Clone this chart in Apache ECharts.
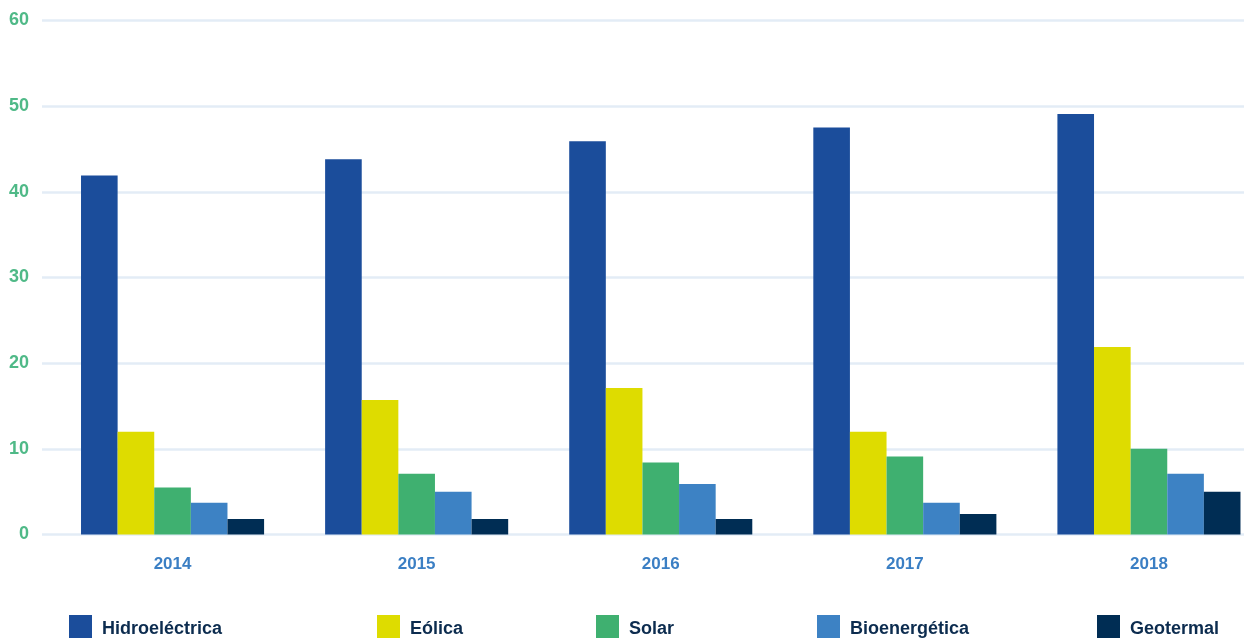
<!DOCTYPE html>
<html>
<head>
<meta charset="utf-8">
<style>
  html, body { margin: 0; padding: 0; background: #ffffff; overflow: hidden; width: 1244px; height: 642px; }
  /* the canvas runs a little past the right edge so the last group is cut off */
  #chart { width: 1271px; height: 642px; }
</style>
<script src="https://cdn.jsdelivr.net/npm/echarts@6/dist/echarts.min.js"></script>
</head>
<body>
<div id="chart"></div>
<script>
// Capacity by source and year
const years = ['2014', '2015', '2016', '2017', '2018'];
const hidro = [41.9, 43.8, 45.9, 47.5, 49.1];
const eolica = [12.0, 15.7, 17.1, 12.0, 21.9];
const solar = [5.5, 7.1, 8.4, 9.1, 10.0];
const bio = [3.7, 5.0, 5.9, 3.7, 7.1];
const geo = [1.8, 1.8, 1.8, 2.4, 5.0];
const seriesNames = ['Hidroeléctrica', 'Eólica', 'Solar', 'Bioenergética', 'Geotermal'];
const yTicks = [0, 10, 20, 30, 40, 50, 60];

const colors = ['#1b4d9b', '#dedc00', '#3fb070', '#3d82c4', '#002d54'];
const values = [hidro, eolica, solar, bio, geo];
const legendLeft = [69, 377, 596, 817, 1097];

const chart = echarts.init(document.getElementById('chart'), null, { renderer: 'canvas' });

const legends = seriesNames.map((name, i) => ({
  data: [name],
  left: legendLeft[i],
  top: 615,
  padding: 0,
  itemWidth: 23,
  itemHeight: 23,
  icon: 'rect',
  selectedMode: false,
  formatter: '{t|{name}}',
  textStyle: {
    rich: {
      t: {
        fontFamily: 'Liberation Sans, Arial, sans-serif',
        fontWeight: 'bold',
        fontSize: 18,
        color: '#0c2c4f',
        padding: [5, 0, 0, 5]
      }
    }
  }
}));

chart.setOption({
  backgroundColor: '#ffffff',
  animation: false,
  legend: legends,
  grid: [
    // grid lines and value labels
    { left: 42, right: 27, top: 20.5, bottom: 107.5 },
    // bars
    { left: 50.5, right: 0, top: 20.5, bottom: 107.5 }
  ],
  xAxis: [
    { type: 'value', gridIndex: 0, show: false, min: 0, max: 1 },
    {
      type: 'category',
      gridIndex: 1,
      data: years,
      axisLine: { show: false },
      axisTick: { show: false },
      axisLabel: {
        margin: 21,
        fontFamily: 'Liberation Sans, Arial, sans-serif',
        fontWeight: 'bold',
        fontSize: 17,
        color: '#3b7fc4'
      }
    }
  ],
  yAxis: [
    {
      type: 'value',
      gridIndex: 0,
      min: yTicks[0],
      max: yTicks[yTicks.length - 1],
      interval: 10,
      axisLine: { show: false },
      axisTick: { show: false },
      splitLine: { lineStyle: { color: '#e3ecf6', width: 2.5 } },
      axisLabel: {
        margin: 13,
        fontFamily: 'Liberation Sans, Arial, sans-serif',
        fontWeight: 'bold',
        fontSize: 18,
        color: '#4fb987'
      }
    },
    {
      type: 'value',
      gridIndex: 1,
      min: yTicks[0],
      max: yTicks[yTicks.length - 1],
      show: false,
      splitLine: { show: false }
    }
  ],
  series: seriesNames.map((name, i) => ({
    name: name,
    type: 'bar',
    xAxisIndex: 1,
    yAxisIndex: 1,
    data: values[i],
    barGap: '0%',
    barCategoryGap: '25%',
    itemStyle: { color: colors[i] }
  }))
});
</script>
</body>
</html>
